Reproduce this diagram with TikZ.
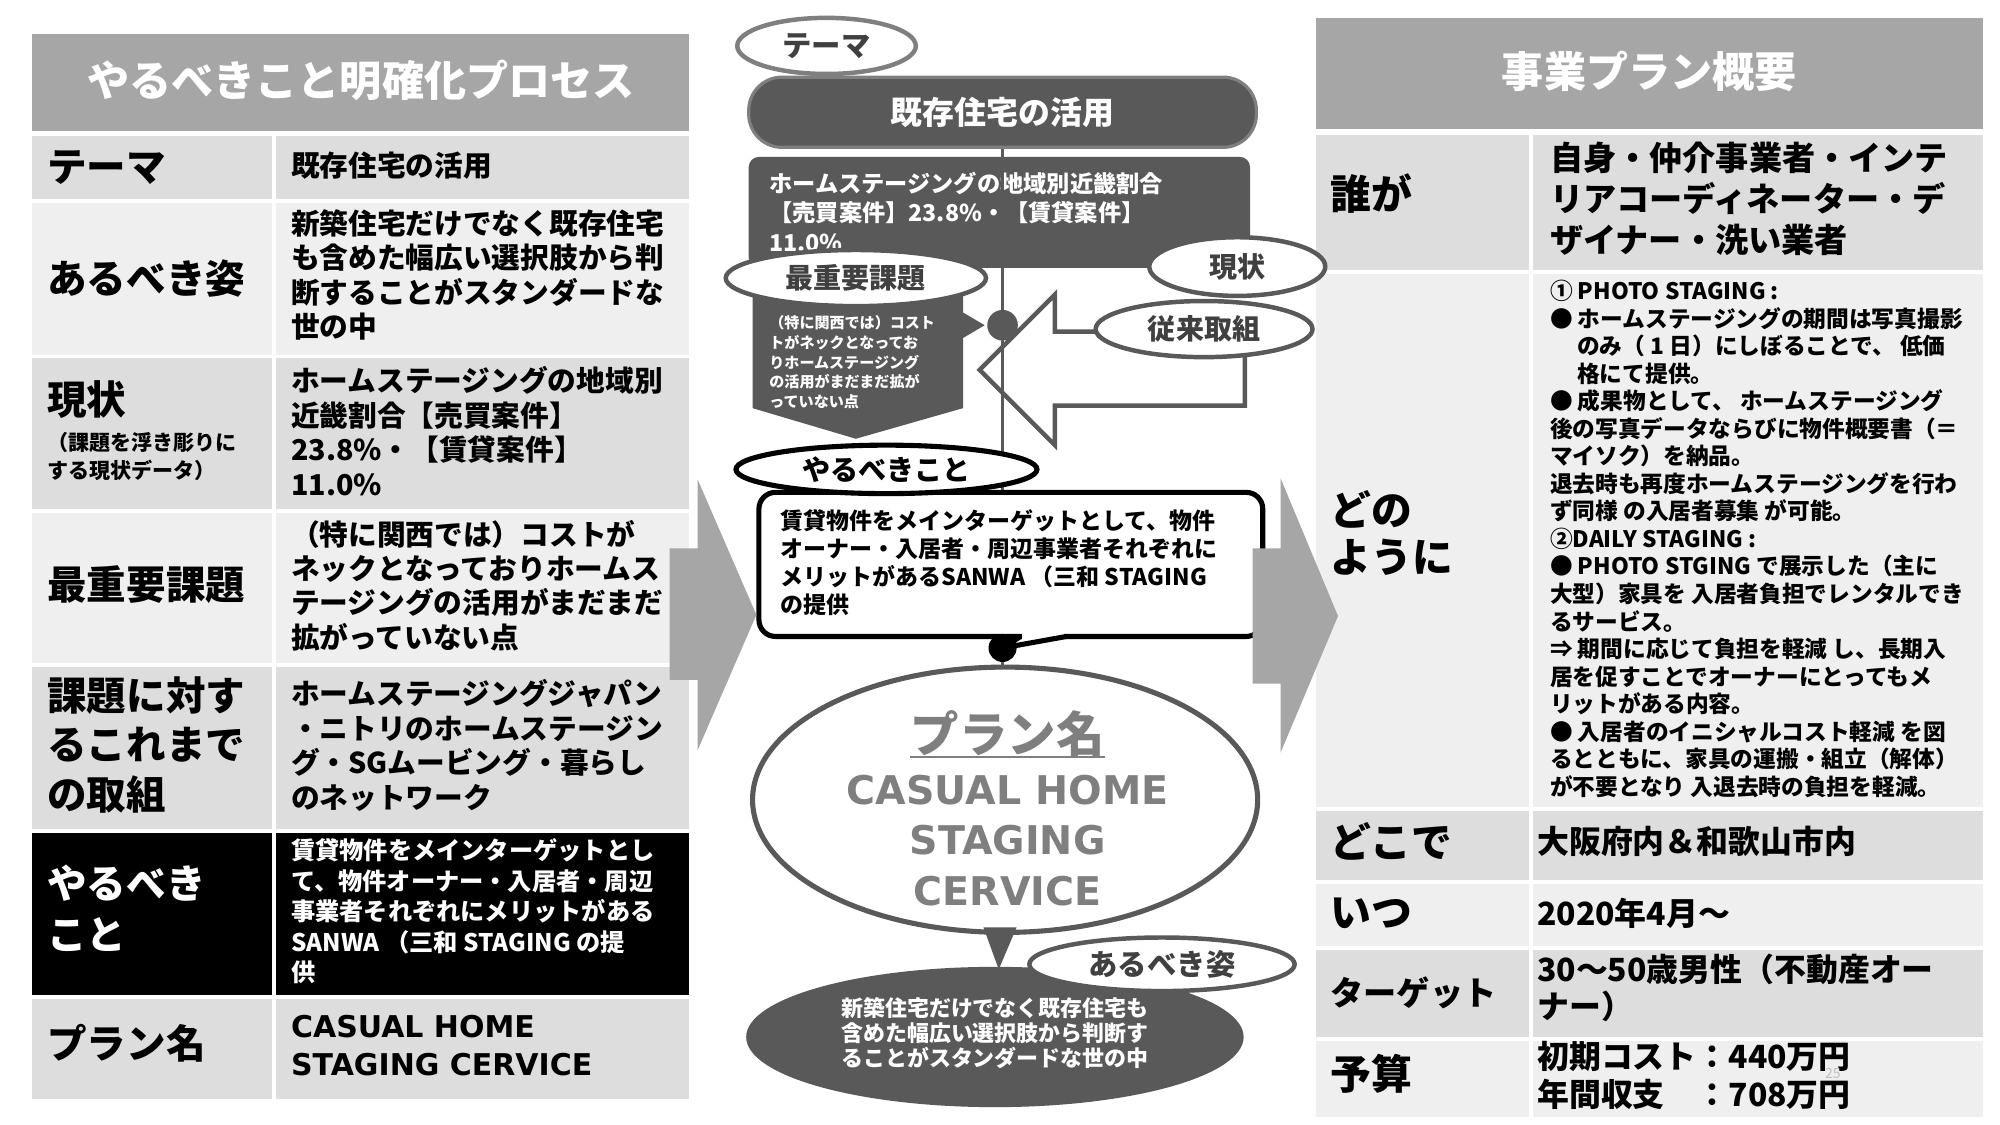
\documentclass[tikz,border=0pt]{standalone}
\usepackage{fontspec}
\setmainfont{Noto Sans CJK JP}
\newfontfamily\lat{DejaVu Sans}
\usetikzlibrary{shapes.geometric}
\definecolor{hdr}{HTML}{A6A6A6}
\definecolor{rowD}{HTML}{DDDDDD}
\definecolor{rowL}{HTML}{EFEFEF}
\definecolor{dk}{HTML}{595959}
\definecolor{mid}{HTML}{7F7F7F}
\definecolor{txt}{HTML}{404040}
\definecolor{pg}{HTML}{BFBFBF}
\newcommand{\fz}[2]{\fontsize{#1}{#2}\selectfont}
\begin{document}
\begin{tikzpicture}[x=1pt,y=-1pt,
 lbl/.style={anchor=west,inner sep=0,align=left,font=\bfseries\fz{31}{39}},
 sublbl/.style={anchor=west,inner sep=0,align=left,font=\bfseries\fz{16.5}{22}},
 body/.style={anchor=west,inner sep=0,align=left,font=\bfseries\fz{22.5}{27}},
 bodys/.style={anchor=west,inner sep=0,align=left,font=\bfseries\fz{19}{24}},
 rbody/.style={anchor=west,inner sep=0,align=left,font=\bfseries\fz{25}{29}},
 htext/.style={inner sep=0,text=white,font=\bfseries\fz{33}{38}},
 oval/.style={ellipse,draw=dk,line width=3.5pt,fill=white,inner sep=0,text=txt,font=\bfseries\fz{22}{26}},
 wtext/.style={anchor=west,inner sep=0,align=left,text=white,font=\bfseries\fz{18.2}{23}},
 conn/.style={draw=dk,line width=3pt},
 garrow/.style={fill=hdr}
]
\useasboundingbox (0,0) rectangle (1568,882);
\fill[white] (0,0) rectangle (1568,882);

% ---------------- left table ----------------
\fill[hdr] (25,27) rectangle (540,103);
\foreach \a/\b/\c in {107/156/rowD,159/278/rowL,281/399/rowD,402/520/rowL,523/650/rowD,653/780/black,783/862/rowD}{
  \fill[\c] (25,\a) rectangle (213,\b);
  \fill[\c] (216,\a) rectangle (540,\b);
}
\node[htext] (lHead) at (283,63) {やるべきこと明確化プロセス};
\node[lbl] (lThema) at (37,131) {テーマ};
\node[lbl] (lAru) at (37,218) {あるべき姿};
\node[lbl] (lGen) at (37,313) {現状};
\node[sublbl] (lGenSub) at (37,358) {（課題を浮き彫りに\\する現状データ）};
\node[lbl] (lSai) at (37,458) {最重要課題};
\node[lbl] (lKadai) at (37,584) {課題に対す\\るこれまで\\の取組};
\node[lbl,text=white,font=\bfseries\fz{31}{40}] (lYaru) at (37,712) {やるべき\\こと};
\node[lbl] (lPlan) at (37,818) {プラン名};

\node[body] (rThema) at (228,130) {既存住宅の活用};
\node[body] (rAru) at (228,215.5) {新築住宅だけでなく既存住宅\\も含めた幅広い選択肢から判\\断することがスタンダードな\\世の中};
\node[body] (rGen) at (228,338) {ホームステージングの地域別\\近畿割合【売買案件】\\23.8\%・【賃貸案件】\\11.0\%};
\node[body] (rSai) at (228,459) {（特に関西では）コストが\\ネックとなっておりホームス\\テージングの活用がまだまだ\\拡がっていない点};
\node[body] (rKadai) at (228,584.5) {ホームステージングジャパン\\・ニトリのホームステージン\\グ・SGムービング・暮らし\\のネットワーク};
\node[bodys,text=white] (rYaru) at (228,714.5) {賃貸物件をメインターゲットとし\\て、物件オーナー・入居者・周辺\\事業者それぞれにメリットがある\\SANWA （三和 STAGING の提\\供};
\node[body,font=\bfseries\lat\fz{23.5}{30}] (rPlan) at (228,820) {CASUAL HOME\\STAGING CERVICE};

% ---------------- right table ----------------
\fill[hdr] (1032,14) rectangle (1555,101);
\foreach \a/\b/\c in {106/212/rowD,215/633/rowL,636/690/rowD,693/742/rowL,745/813/rowD,816/876/rowL}{
  \fill[\c] (1032,\a) rectangle (1199,\b);
  \fill[\c] (1202,\a) rectangle (1555,\b);
}
\node[htext] (rHead) at (1293,56) {事業プラン概要};
\node[lbl,font=\bfseries\fz{32}{37}] (qWho) at (1043,152) {誰が};
\node[anchor=west,inner sep=0,align=left,font=\bfseries\fz{26}{32}] (aWho) at (1215,156) {自身・仲介事業者・インテ\\リアコーディネーター・デ\\ザイナー・洗い業者};
\node[lbl,font=\bfseries\fz{32}{37}] (qHow) at (1043,418) {どの\\ように};
\node[anchor=west,inner sep=0,align=left,font=\bfseries\fz{17.8}{21.6}] (aHow) at (1215,422.5) {① PHOTO STAGING :\\
● ホームステージングの期間は写真撮影\\
\hspace*{1.2em}のみ（ 1 日）にしぼることで、 低価\\
\hspace*{1.2em}格にて提供。\\
● 成果物として、 ホームステージング\\
後の写真データならびに物件概要書（＝\\
マイソク）を納品。\\
退去時も再度ホームステージングを行わ\\
ず同様 の入居者募集 が可能。\\
②DAILY STAGING :\\
● PHOTO STGING で展示した（主に\\
大型）家具を 入居者負担でレンタルでき\\
るサービス。\\
⇒ 期間に応じて負担を軽減 し、長期入\\
居を促すことでオーナーにとってもメ\\
リットがある内容。\\
● 入居者のイニシャルコスト軽減 を図\\
るとともに、家具の運搬・組立（解体）\\
が不要となり 入退去時の負担を軽減。};
\node[lbl,font=\bfseries\fz{32}{37}] (qWhere) at (1043,660) {どこで};
\node[rbody] (aWhere) at (1205,660) {大阪府内＆和歌山市内};
\node[lbl,font=\bfseries\fz{32}{37}] (qWhen) at (1043,716) {いつ};
\node[rbody] (aWhen) at (1205,716) {2020年4月〜};
\node[lbl,font=\bfseries\fz{26}{30}] (qTarget) at (1043,778) {ターゲット};
\node[rbody] (aTarget) at (1205,774.5) {30〜50歳男性（不動産オー\\ナー）};
\node[lbl,font=\bfseries\fz{32}{37}] (qBudget) at (1043,842) {予算};
\node[rbody,font=\bfseries\fz{25}{30}] (aBudget) at (1205,843) {初期コスト：440万円\\年間収支　：708万円};
\node[inner sep=0,text=pg,font=\fz{11}{13}] (pageno) at (1437,842) {25};

% ---------------- middle ----------------
\fill[dk, rounded corners=8pt] (587,123) rectangle (980,210);
\node[wtext] (gbt) at (603,166) {ホームステージングの地域別近畿割合\\【売買案件】23.8\%・【賃貸案件】\\11.0\%};
\node[rectangle, rounded corners=26pt, fill=dk, draw=mid, line width=2.5pt, minimum width=398, minimum height=55, text=white, font=\bfseries\fz{25}{30}] (kizon) at (786,88) {既存住宅の活用};
\node[oval, draw=mid, minimum width=140, minimum height=44, font=\bfseries\fz{23}{26}] (thema) at (648,36) {テーマ};

% white arrow (従来取組)
\draw[fill=white, draw=dk, line width=3.5pt, line join=miter] (976,260) -- (827,260) -- (827,231) -- (768,290) -- (827,349) -- (827,318) -- (976,318) -- cycle;

% plan ellipse
\node[ellipse, draw=dk, line width=4pt, fill=white, minimum width=396, minimum height=208, inner sep=0] (plan) at (788,627) {};

% main vertical connector
\draw[conn] (kizon.south) -- (kizon.south |- plan.north);

% 最重要課題 callout
\fill[dk] (590,226) -- (755,226) -- (755,245) -- (772,255) -- (755,265) -- (755,320) -- (671,344) -- (590,320) -- cycle;
\node[anchor=west, inner sep=0, align=left, text=white, font=\bfseries\fz{11.8}{15.5}] (saiT) at (603,284) {（特に関西では）コスト\\トがネックとなってお\\りホームステージング\\の活用がまだまだ拡が\\っていない点};
\node[circle, fill=dk, minimum size=24, inner sep=0] (dot1) at (786,255) {};

\node[oval, minimum width=204, minimum height=44] (saiE) at (671,218) {最重要課題};
\node[oval, minimum width=138, minimum height=46] (genE) at (970,209) {現状};
\node[oval, minimum width=170, minimum height=44] (juraiE) at (944,258) {従来取組};

% bubble
\node[rectangle, rounded corners=13pt, draw=black, line width=4pt, fill=white, minimum width=395, minimum height=113, inner sep=0] (bub) at (792.5,442.5) {};
\node[anchor=west, inner sep=0, align=left, font=\bfseries\fz{18}{22}] (bubT) at (612,441) {賃貸物件をメインターゲットとして、物件\\オーナー・入居者・周辺事業者それぞれに\\メリットがあるSANWA （三和 STAGING\\の提供};
\coordinate (d2) at (786,508);
\fill[white] (801,494) rectangle (834,504);
\draw[black, line width=4pt, line join=round] (800,499) -- (d2) -- (836,499);
\node[circle, fill=black, minimum size=22, inner sep=0] (dot2) at (d2) {};
\node[oval, draw=black, line width=4pt, text=black, minimum width=236, minimum height=38] (yaruE) at (695,368) {やるべきこと};

% plan texts
\node[inner sep=0, text=mid, font=\bfseries\fz{38}{40}] (pn) at (790,575) {プラン名};
\draw[mid, line width=2pt] (pn.south west) -- (pn.south east);
\node[inner sep=0, align=center, text=mid, font=\bfseries\lat\fz{31}{39.5}] (pnT) at (790,659) {CASUAL HOME\\STAGING\\CERVICE};

% bottom あるべき姿
\node[ellipse, fill=dk, minimum width=390, minimum height=110, inner sep=0] (aruB) at (780,813) {};
\fill[dk] (771,727) -- (797,727) -- (783,760) -- cycle;
\node[inner sep=0, align=center, text=white, font=\bfseries\fz{17.2}{19.5}] (aruT) at (780,810) {新築住宅だけでなく既存住宅も\\含めた幅広い選択肢から判断す\\ることがスタンダードな世の中};
\node[oval, minimum width=208, minimum height=42, font=\bfseries\fz{23}{26}] (aruE) at (911,756) {あるべき姿};

% gray chevrons
\fill[garrow] (525,430) -- (547,430) -- (547,376) -- (593,482) -- (547,588) -- (547,533) -- (525,533) -- cycle;
\fill[garrow] (982,430) -- (1004,430) -- (1004,375) -- (1049,483) -- (1004,590) -- (1004,536) -- (982,536) -- cycle;
\end{tikzpicture}
\end{document}
